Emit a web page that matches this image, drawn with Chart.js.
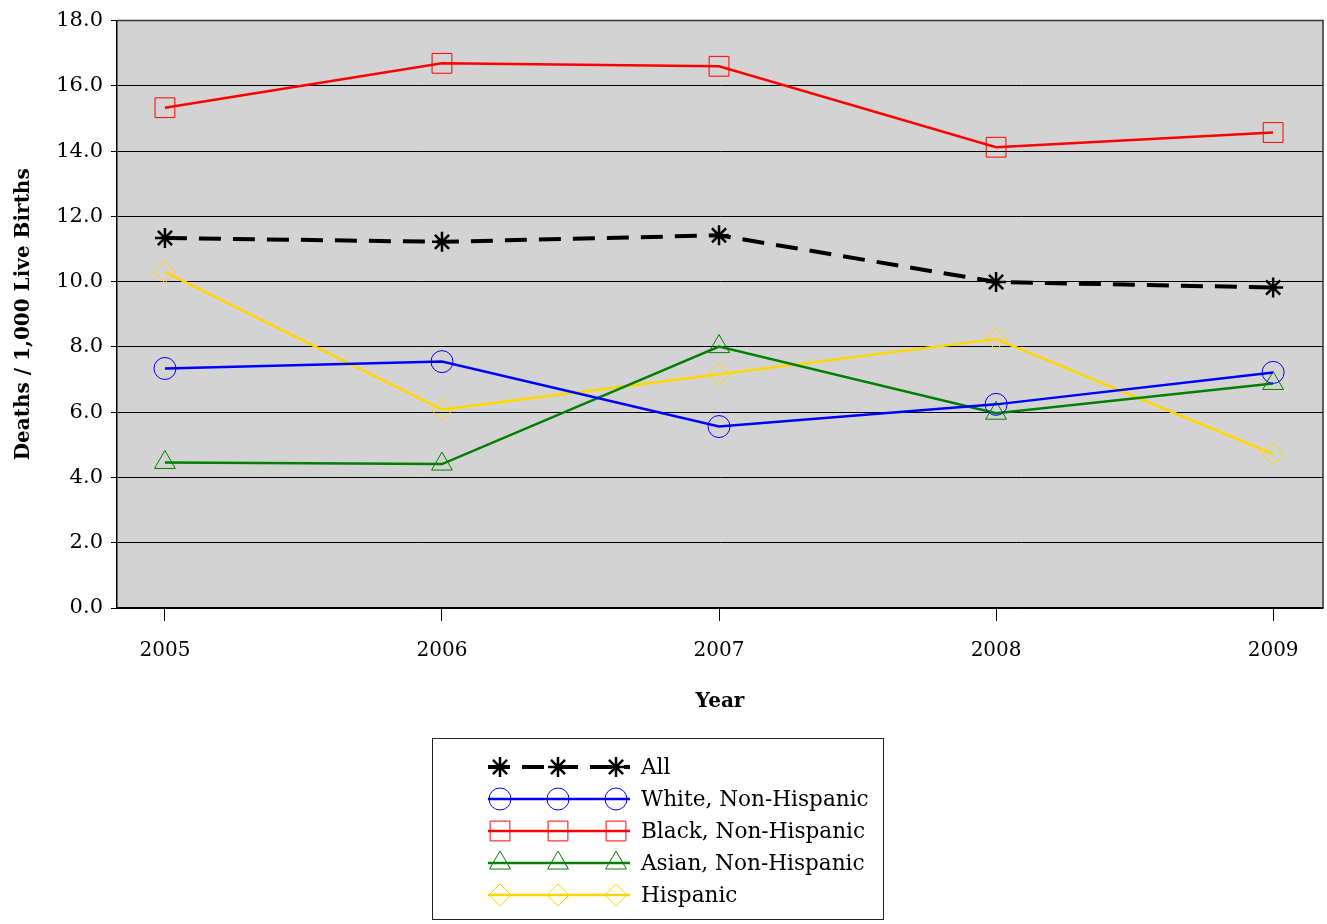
<!DOCTYPE html>
<html>
<head>
<meta charset="utf-8">
<script src="https://cdn.jsdelivr.net/npm/chart.js@4.4.1/dist/chart.umd.min.js"></script>
<style>
  html, body { margin: 0; padding: 0; background: #fff; overflow: hidden; }
  #wrap { width: 1327px; height: 924px; position: relative; }
  canvas { display: block; }
</style>
</head>
<body>
<div id="wrap"><canvas id="chart"></canvas></div>
<script>
// values
const years = [2005, 2006, 2007, 2008, 2009];
const allRates = [11.34, 11.22, 11.42, 9.99, 9.82];
const whiteRates = [7.34, 7.55, 5.56, 6.24, 7.22];
const blackRates = [15.33, 16.69, 16.60, 14.12, 14.57];
const asianRates = [4.46, 4.41, 8.01, 5.97, 6.88];
const hispanicRates = [10.30, 6.08, 7.16, 8.24, 4.72];
const yTicks = [0, 2, 4, 6, 8, 10, 12, 14, 16, 18];

const FONT = "'DejaVu Serif', serif";

function pts(vals) {
    return vals.map(function (v, i) { return { x: years[i], y: v }; });
}

const plotBg = {
    id: "plotBg",
    beforeDraw: function (chart) {
        const a = chart.chartArea, ctx = chart.ctx;
        ctx.save();
        ctx.fillStyle = "#d3d3d3";
        ctx.fillRect(a.left, a.top, a.right - a.left, a.bottom - a.top);
        ctx.restore();
    },
    afterDatasetsDraw: function (chart) {
        const a = chart.chartArea, ctx = chart.ctx;
        ctx.save();
        ctx.strokeStyle = "#333";
        ctx.lineWidth = 1.5;
        ctx.beginPath();
        ctx.moveTo(a.left, a.top);
        ctx.lineTo(a.right, a.top);
        ctx.lineTo(a.right, a.bottom);
        ctx.stroke();
        ctx.restore();
    }
};

// boxed legend below the axis title, three markers on each sample line
const boxLegend = {
    id: "boxLegend",
    afterDraw: function (chart) {
        const ctx = chart.ctx;
        ctx.save();
        ctx.strokeStyle = "#222";
        ctx.lineWidth = 1;
        ctx.strokeRect(432.5, 738.5, 451, 181);
        chart.data.datasets.forEach(function (ds, i) {
            const y = 767 + i * 32;
            ctx.save();
            ctx.strokeStyle = ds.borderColor;
            ctx.lineWidth = ds.borderWidth;
            ctx.setLineDash(ds.borderDash || []);
            ctx.beginPath();
            ctx.moveTo(488, y);
            ctx.lineTo(630, y);
            ctx.stroke();
            ctx.restore();
            [500, 558, 616].forEach(function (x) {
                ctx.save();
                ctx.strokeStyle = ds.pointBorderColor;
                ctx.fillStyle = "rgba(0,0,0,0)";
                ctx.lineWidth = ds.pointBorderWidth;
                Chart.helpers.drawPoint(ctx, {
                    pointStyle: ds.pointStyle,
                    radius: ds.pointRadius,
                    borderWidth: ds.pointBorderWidth,
                    rotation: 0
                }, x, y);
                ctx.restore();
            });
            ctx.fillStyle = "#000";
            ctx.font = "21.6px " + FONT;
            ctx.textBaseline = "middle";
            ctx.textAlign = "left";
            ctx.fillText(ds.label, 641, y + 1);
        });
        ctx.restore();
    }
};

new Chart(document.getElementById("chart"), {
    type: "line",
    data: {
        datasets: [
            {
                label: "All",
                data: pts(allRates),
                borderColor: "#000",
                borderWidth: 4,
                borderDash: [22, 12],
                pointStyle: "star",
                pointRadius: 10,
                pointBorderWidth: 2.5,
                pointBorderColor: "#000",
                pointBackgroundColor: "rgba(0,0,0,0)"
            },
            {
                label: "White, Non-Hispanic",
                data: pts(whiteRates),
                borderColor: "#0000ff",
                borderWidth: 2.5,
                pointStyle: "circle",
                pointRadius: 11,
                pointBorderWidth: 1,
                pointBorderColor: "#0000ff",
                pointBackgroundColor: "rgba(0,0,0,0)"
            },
            {
                label: "Black, Non-Hispanic",
                data: pts(blackRates),
                borderColor: "#ff0000",
                borderWidth: 2.5,
                pointStyle: "rect",
                pointRadius: 14,
                pointBorderWidth: 1,
                pointBorderColor: "#ff0000",
                pointBackgroundColor: "rgba(0,0,0,0)"
            },
            {
                label: "Asian, Non-Hispanic",
                data: pts(asianRates),
                borderColor: "#008000",
                borderWidth: 2.5,
                pointStyle: "triangle",
                pointRadius: 12,
                pointBorderWidth: 1,
                pointBorderColor: "#008000",
                pointBackgroundColor: "rgba(0,0,0,0)"
            },
            {
                label: "Hispanic",
                data: pts(hispanicRates),
                borderColor: "#ffd700",
                borderWidth: 2.5,
                pointStyle: "rectRot",
                pointRadius: 11,
                pointBorderWidth: 1,
                pointBorderColor: "#ffd700",
                pointBackgroundColor: "rgba(0,0,0,0)"
            }
        ]
    },
    options: {
        responsive: true,
        maintainAspectRatio: false,
        animation: false,
        layout: { autoPadding: false, padding: { left: 0, top: 19, right: 4, bottom: 206 } },
        plugins: {
            legend: { display: false },
            tooltip: { enabled: false }
        },
        scales: {
            x: {
                type: "linear",
                min: 2004.827,
                max: 2009.18,
                afterBuildTicks: function (scale) {
                    scale.ticks = years.map(function (v) { return { value: v }; });
                },
                afterFit: function (scale) { scale.height = 110; },
                ticks: {
                    color: "#000",
                    font: { family: FONT, size: 20 },
                    padding: 18,
                    maxRotation: 0,
                    callback: function (v) { return String(v); }
                },
                grid: { drawOnChartArea: false, color: "#000", tickLength: 13 },
                border: { color: "#000", width: 1.5 },
                title: {
                    display: true,
                    text: "Year",
                    color: "#000",
                    font: { family: FONT, size: 20, weight: "bold" },
                    padding: { top: 23 }
                }
            },
            y: {
                min: 0,
                max: 18,
                afterBuildTicks: function (scale) {
                    scale.ticks = yTicks.map(function (v) { return { value: v }; });
                },
                afterFit: function (scale) { scale.width = 117; },
                ticks: {
                    color: "#000",
                    font: { family: FONT, size: 21 },
                    padding: 8,
                    callback: function (v) { return v.toFixed(1); }
                },
                grid: { color: "#000", lineWidth: 1, tickLength: 6 },
                border: { color: "#000", width: 1.5 },
                title: {
                    display: true,
                    text: "Deaths / 1,000 Live Births",
                    color: "#000",
                    font: { family: FONT, size: 20, weight: "bold" },
                    padding: { top: 12, bottom: 6 }
                }
            }
        }
    },
    plugins: [plotBg, boxLegend]
});
</script>
</body>
</html>
